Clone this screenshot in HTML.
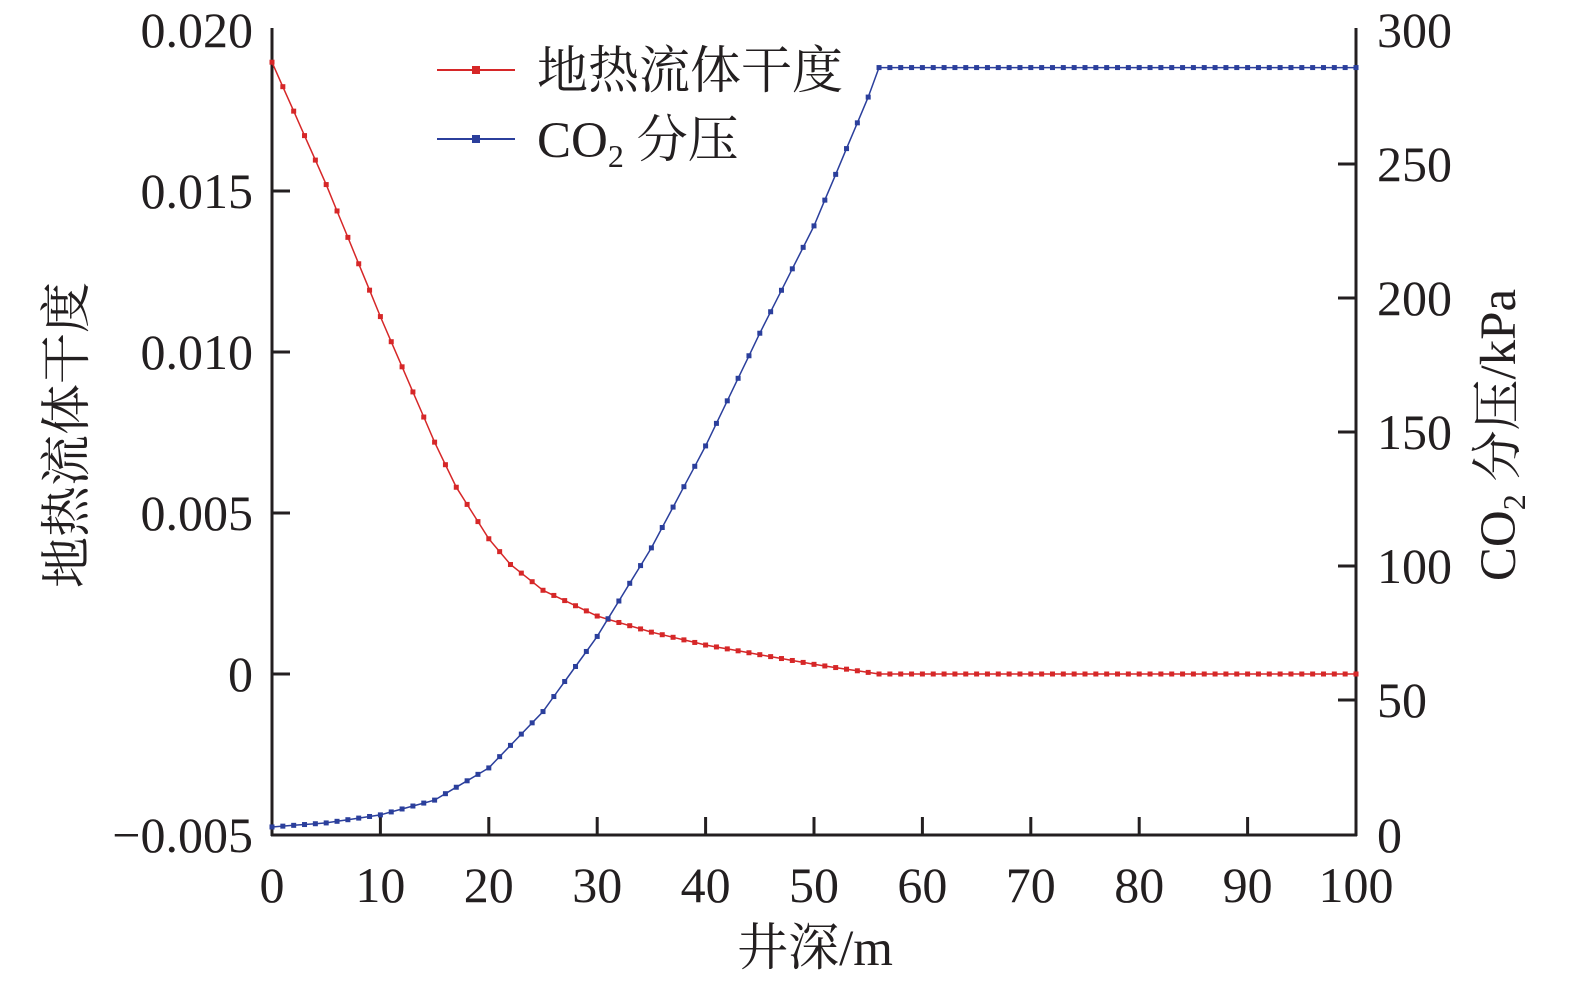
<!DOCTYPE html>
<html><head><meta charset="utf-8">
<style>
html,body{margin:0;padding:0;background:#fff;}
svg{display:block;}
text{font-family:"Liberation Serif","Noto Serif CJK SC","Noto Sans CJK SC",serif;fill:#231f20;}
</style></head>
<body>
<svg id="s" width="1575" height="985" viewBox="0 0 1575 985" xmlns="http://www.w3.org/2000/svg">
<g stroke="#231f20" stroke-width="3" fill="none">
<line x1="272" y1="28" x2="272" y2="836"/>
<line x1="1356" y1="28" x2="1356" y2="836"/>
<line x1="271" y1="835" x2="1357" y2="835"/>
</g>
<g id="ticks" stroke="#231f20" stroke-width="3"></g>
<g font-size="50">
<text x="253" y="47" text-anchor="end">0.020</text>
<text x="253" y="208" text-anchor="end">0.015</text>
<text x="253" y="369" text-anchor="end">0.010</text>
<text x="253" y="530" text-anchor="end">0.005</text>
<text x="253" y="691" text-anchor="end">0</text>
<text x="253" y="852" text-anchor="end">−0.005</text>
<text x="1377" y="47">300</text>
<text x="1377" y="181">250</text>
<text x="1377" y="315">200</text>
<text x="1377" y="449">150</text>
<text x="1377" y="583">100</text>
<text x="1377" y="717">50</text>
<text x="1377" y="852">0</text>
</g>
<g id="xl" font-size="50" text-anchor="middle"></g>
<text x="815" y="965" font-size="51" text-anchor="middle">井深/m</text>
<text transform="translate(84,435) rotate(-90)" font-size="51" text-anchor="middle">地热流体干度</text>
<text transform="translate(1515,435) rotate(-90)" font-size="51" text-anchor="middle">CO<tspan font-size="32" dy="10">2</tspan><tspan dy="-10"> 分压/kPa</tspan></text>
<g id="series"></g>
<line x1="437" y1="70" x2="515" y2="70" stroke="#d62728" stroke-width="2"/>
<rect x="472" y="66" width="8" height="8" fill="#d62728"/>
<text x="537" y="88" font-size="51">地热流体干度</text>
<line x1="437" y1="139" x2="515" y2="139" stroke="#2b3f9c" stroke-width="2"/>
<rect x="472" y="135" width="8" height="8" fill="#2b3f9c"/>
<text x="537" y="157" font-size="51">CO<tspan font-size="32" dy="10">2</tspan><tspan dy="-10"> 分压</tspan></text>
</svg>
<script>
var NS="http://www.w3.org/2000/svg";
function el(t,a,p){var e=document.createElementNS(NS,t);for(var k in a)e.setAttribute(k,a[k]);p.appendChild(e);return e;}
var tk=document.getElementById("ticks"),xl=document.getElementById("xl"),ser=document.getElementById("series");
function X(d){return 272+d*10.84;}
for(var i=0;i<=10;i++){var x=X(i*10);
 if(i>0&&i<10)el("line",{x1:x,y1:835,x2:x,y2:817},tk);
 var t=el("text",{x:x,y:902},xl);t.textContent=String(i*10);}
[191,352,513,674].forEach(function(y){el("line",{x1:272,y1:y,x2:290,y2:y},tk);});
[164,298,432,566,700].forEach(function(y){el("line",{x1:1338,y1:y,x2:1356,y2:y},tk);});
function interp(pts,d){for(var i=0;i<pts.length-1;i++){if(d>=pts[i][0]&&d<=pts[i+1][0]){var f=(d-pts[i][0])/(pts[i+1][0]-pts[i][0]);return pts[i][1]+f*(pts[i+1][1]-pts[i][1]);}}return pts[pts.length-1][1];}
var red=[[0,0.0190],[5,0.0152],[10,0.0111],[15,0.0072],[17,0.0058],[20,0.0042],[22,0.0034],[25,0.0026],[30,0.0018],[35,0.0013],[40,0.0009],[45,0.0006],[50,0.0003],[56,0],[100,0]];
var blue=[[0,3],[5,4.5],[10,7.5],[15,13],[20,25],[25,46],[30,74],[35,107],[40,145],[45,187],[50,227],[55,275],[56,286],[100,286]];
function Yl(v){return 674-v/0.005*161;}
function Yr(v){return 835-v/300*805;}
function draw(pts,Y,c){var d="";var ms=[];
 for(var i=0;i<=100;i++){var x=X(i),y=Y(interp(pts,i));d+=(i?"L":"M")+x.toFixed(1)+" "+y.toFixed(1);ms.push([x,y]);}
 el("path",{d:d,stroke:c,"stroke-width":1.5,fill:"none"},ser);
 ms.forEach(function(m){el("rect",{x:m[0]-2.5,y:m[1]-2.5,width:5,height:5,fill:c},ser);});}
draw(red,Yl,"#d62728");draw(blue,Yr,"#2b3f9c");
</script>
</body></html>
